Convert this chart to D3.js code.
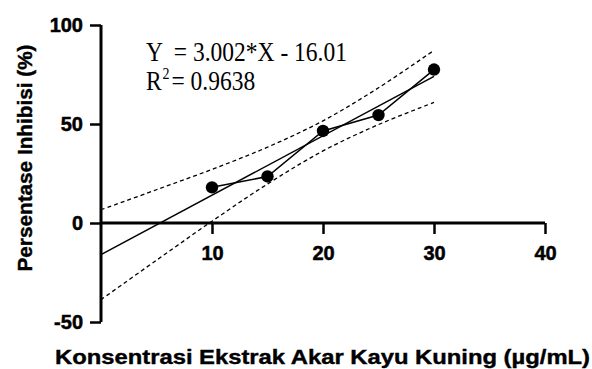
<!DOCTYPE html>
<html>
<head>
<meta charset="utf-8">
<script src="https://cdn.jsdelivr.net/npm/d3@7"></script>
<style>
  body { margin: 0; background: #fff; }
  .tick text { font-family: "Liberation Sans", Arial, sans-serif; font-weight: bold; font-size: 20px; fill: #000; stroke: #000; stroke-width: 0.5px; }
</style>
</head>
<body>
<div id="chart"></div>
<script>
const concentration = [10, 15, 20, 25, 30];
const inhibition = [18, 23.5, 46.5, 54.5, 77.5];
const slope = 3.002, intercept = -16.01;
const bandX = [0, 5, 10, 15, 20, 25, 30];
const bandUpper = [6.7, 16.8, 27.1, 38.3, 51.6, 68.3, 87.2];
const bandLower = [-38.7, -18.8, 0.9, 19.7, 36.4, 49.7, 60.9];
const xTicks = [10, 20, 30, 40];
const yTicks = [-50, 0, 50, 100];

const width = 592, height = 369;
const svg = d3.select('#chart').append('svg').attr('width', width).attr('height', height);

const x = d3.scaleLinear().domain([0, 40]).range([101, 545]);
const y = d3.scaleLinear().domain([-50, 100]).range([322, 25]);

// confidence bands
const band = d3.line().x(d => x(d[0])).y(d => y(d[1])).curve(d3.curveCatmullRom);
[bandUpper, bandLower].forEach(b => {
    svg.append('path')
        .datum(bandX.map((v, i) => [v, b[i]]))
        .attr('d', band)
        .attr('fill', 'none').attr('stroke', '#000')
        .attr('stroke-width', 1.3).attr('stroke-dasharray', '4,3');
});

// regression line
svg.append('line')
    .attr('x1', x(0)).attr('y1', y(intercept))
    .attr('x2', x(30)).attr('y2', y(slope * 30 + intercept))
    .attr('stroke', '#000').attr('stroke-width', 1.5);

// connecting line through points
svg.append('path')
    .datum(concentration.map((v, i) => [v, inhibition[i]]))
    .attr('d', d3.line().x(d => x(d[0])).y(d => y(d[1])))
    .attr('fill', 'none').attr('stroke', '#000').attr('stroke-width', 1.5);

svg.append('g').selectAll('circle').data(concentration).enter()
    .append('circle')
    .attr('cx', d => x(d))
    .attr('cy', (d, i) => y(inhibition[i]))
    .attr('r', 6.2).attr('fill', '#000');

// axes (plain hyphen for negatives, like the original)
const fmt = d => String(d);
const yAxis = svg.append('g').attr('transform', `translate(${x(0)},0)`)
    .call(d3.axisLeft(y).tickValues(yTicks).tickFormat(fmt).tickSize(11).tickPadding(7).tickSizeOuter(0));
const xAxis = svg.append('g').attr('transform', `translate(0,${y(0)})`)
    .call(d3.axisBottom(x).tickValues(xTicks).tickFormat(fmt).tickSize(11).tickPadding(12).tickSizeOuter(0));
[yAxis, xAxis].forEach(a => {
    a.select('.domain').attr('stroke-width', 3);
    a.selectAll('.tick line').attr('stroke-width', 2.5);
});
yAxis.select('.domain').attr('d', `M0,${y(100)}V${y(-50)}`);
xAxis.select('.domain').attr('d', `M${x(0)},0H${x(40)}`);

// labels
svg.append('text')
    .attr('transform', 'translate(32,158) rotate(-90)')
    .attr('text-anchor', 'middle')
    .attr('textLength', 227).attr('lengthAdjust', 'spacingAndGlyphs')
    .style('font-family', '"Liberation Sans", Arial, sans-serif')
    .style('font-weight', 'bold').style('font-size', '20px')
    .style('stroke', '#000').style('stroke-width', '0.4px')
    .text('Persentase Inhibisi (%)');

svg.append('text')
    .attr('x', 55).attr('y', 364)
    .attr('textLength', 535).attr('lengthAdjust', 'spacingAndGlyphs')
    .style('font-family', '"Liberation Sans", Arial, sans-serif')
    .style('font-weight', 'bold').style('font-size', '21px')
    .style('stroke', '#000').style('stroke-width', '0.4px')
    .text('Konsentrasi Ekstrak Akar Kayu Kuning (µg/mL)');

// equation (glyphs are a bit taller than wide in the original)
const eq = svg.append('g')
    .style('font-family', '"Liberation Serif", "Times New Roman", serif')
    .style('font-size', '23.5px');
eq.append('text').attr('transform', 'translate(146,61) scale(1,1.15)')
    .attr('xml:space', 'preserve').text('Y  = 3.002*X - 16.01');
const r2 = eq.append('text').attr('transform', 'translate(146,90) scale(1,1.15)');
r2.append('tspan').text('R');
r2.append('tspan').attr('x', 16.5).attr('dy', -10).style('font-size', '14px').text('2');
r2.append('tspan').attr('x', 25.5).attr('dy', 10).text('= 0.9638');
</script>
</body>
</html>
